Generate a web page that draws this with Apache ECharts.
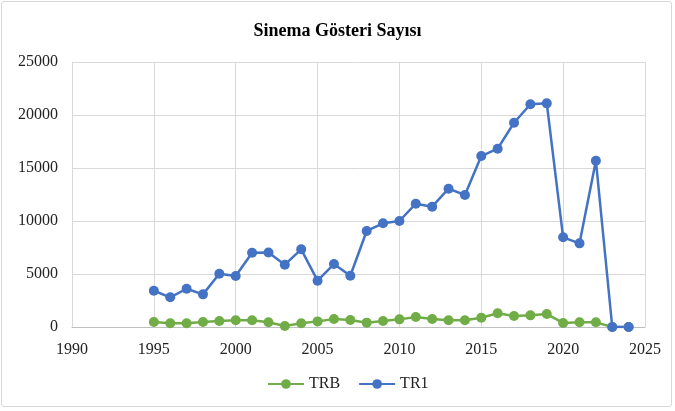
<!DOCTYPE html>
<html><head><meta charset="utf-8">
<script src="https://cdn.jsdelivr.net/npm/echarts@6/dist/echarts.min.js"></script>
<style>
html,body{margin:0;padding:0;background:#fff;}
#frame{position:absolute;left:1px;top:1px;width:671px;height:406px;border:1px solid #d9d9d9;border-radius:3px;box-sizing:border-box;}
#chart{position:absolute;left:0;top:0;width:675px;height:411px;}
</style></head>
<body>
<div id="frame"></div>
<div id="chart"></div>
<script>
const years = [1995,1996,1997,1998,1999,2000,2001,2002,2003,2004,2005,2006,2007,2008,2009,2010,2011,2012,2013,2014,2015,2016,2017,2018,2019,2020,2021,2022,2023,2024];
const trb = [470,350,350,470,570,630,630,450,100,350,530,750,660,410,570,720,940,750,630,630,880,1290,1040,1100,1220,380,440,440,0,0];
const tr1 = [3420,2800,3610,3080,5030,4810,7010,7030,5880,7330,4370,5940,4840,9060,9780,10000,11630,11350,13050,12450,16130,16820,19270,21010,21100,8460,7890,15690,0,0];
const yTicks = [0,5000,10000,15000,20000,25000];
const xTicks = [1990,1995,2000,2005,2010,2015,2020,2025];

const font = '"Liberation Serif","Times New Roman",serif';
const chart = echarts.init(document.getElementById('chart'));
function pairs(v){ return years.map((y,i)=>[y,v[i]]); }
chart.setOption({
  animation:false,
  title:{text:'Sinema Gösteri Sayısı',left:'center',top:17,textStyle:{fontFamily:font,fontSize:18,fontWeight:'bold',color:'#000'}},
  grid:{left:72,right:30,top:62,bottom:84},
  legend:{top:371,left:262,itemWidth:36,itemHeight:12,itemGap:18,
    textStyle:{fontFamily:font,fontSize:16,color:'#222'},
    data:['TRB','TR1']},
  xAxis:{type:'value',min:xTicks[0],max:xTicks[xTicks.length-1],interval:5,
    axisLine:{show:true,lineStyle:{color:'#bfbfbf',width:1}},axisTick:{show:false},
    axisLabel:{fontFamily:font,fontSize:16,color:'#222',margin:15,formatter:v=>String(v)},
    splitLine:{show:true,lineStyle:{color:'#d9d9d9',width:1}}},
  yAxis:{type:'value',min:yTicks[0],max:yTicks[yTicks.length-1],interval:5000,
    axisLine:{show:false},axisTick:{show:false},
    axisLabel:{fontFamily:font,fontSize:16,color:'#222',margin:14,formatter:v=>String(v)},
    splitLine:{show:true,lineStyle:{color:'#d9d9d9',width:1}}},
  series:[
    {name:'TRB',type:'line',data:pairs(trb),symbol:'circle',symbolSize:10,
     lineStyle:{color:'#70AD47',width:2.5},itemStyle:{color:'#70AD47'}},
    {name:'TR1',type:'line',data:pairs(tr1),symbol:'circle',symbolSize:10,
     lineStyle:{color:'#4472C4',width:2.5},itemStyle:{color:'#4472C4'}}
  ]
});
</script>
</body></html>
